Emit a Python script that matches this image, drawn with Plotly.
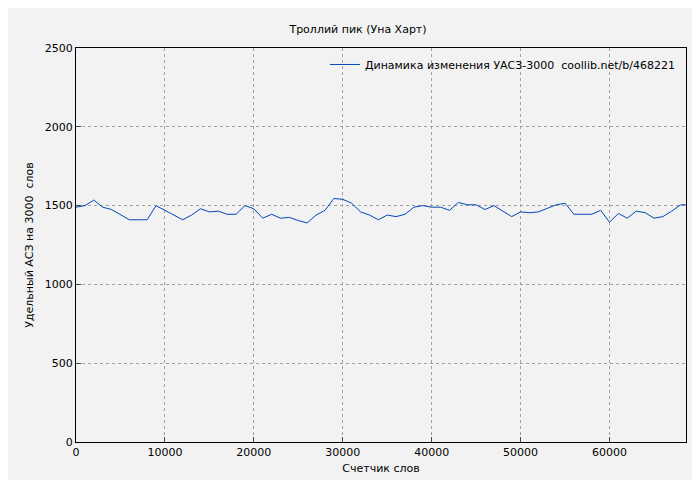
import plotly.graph_objects as go

words = [0,1000,2000,3000,4000,5000,6000,7000,8000,9000,10000,11000,12000,13000,14000,15000,16000,17000,18000,19000,20000,21000,22000,23000,24000,25000,26000,27000,28000,29000,30000,31000,32000,33000,34000,35000,36000,37000,38000,39000,40000,41000,42000,43000,44000,45000,46000,47000,48000,49000,50000,51000,52000,53000,54000,55000,56000,57000,58000,59000,60000,61000,62000,63000,64000,65000,66000,67000,68000,68600]
uasz = [1490,1500,1535,1490,1475,1440,1410,1410,1410,1500,1470,1440,1410,1440,1480,1460,1465,1445,1445,1500,1480,1420,1445,1420,1425,1405,1390,1440,1470,1545,1540,1515,1460,1440,1410,1440,1430,1445,1490,1500,1490,1490,1470,1520,1505,1505,1475,1500,1465,1430,1460,1455,1460,1480,1505,1515,1445,1445,1445,1470,1395,1450,1420,1465,1455,1420,1430,1465,1505,1505]
xticks = [0,10000,20000,30000,40000,50000,60000]
yticks = [0,500,1000,1500,2000,2500]

fig = go.Figure(go.Scatter(x=words, y=uasz, mode="lines", line=dict(color="#0047b3", width=1),
                           name="Динамика изменения УАСЗ-3000  coollib.net/b/468221"))
ax = dict(showline=True, linecolor="black", mirror=True, ticks="inside", ticklen=5,
          showgrid=True, gridcolor="#a0a0a0", griddash="dot", zeroline=False, automargin=False,
          tickfont=dict(size=11, color="black"))
fig.update_layout(
    width=700, height=480, paper_bgcolor="#f2f2f2", plot_bgcolor="#f2f2f2",
    font=dict(family="DejaVu Sans", size=11, color="black"),
    title=dict(text="Троллий пик (Уна Харт)", x=0.5, y=0.965, font=dict(size=11)),
    margin=dict(l=68, r=22, t=40, b=46),
    showlegend=True,
    legend=dict(x=0.99, y=0.995, xanchor="right", yanchor="top", bgcolor="rgba(0,0,0,0)", font=dict(size=11)),
)
fig.update_xaxes(**ax, range=[0,68600], tickvals=xticks, ticktext=[str(v) for v in xticks],
                 title=dict(text="Счетчик слов", standoff=6, font=dict(size=11)))
fig.update_yaxes(**ax, range=[0,2500], tickvals=yticks, ticktext=[str(v) for v in yticks],
                 title=dict(text="Удельный АСЗ на 3000  слов", standoff=8, font=dict(size=11)))
fig.write_html("out.html")
